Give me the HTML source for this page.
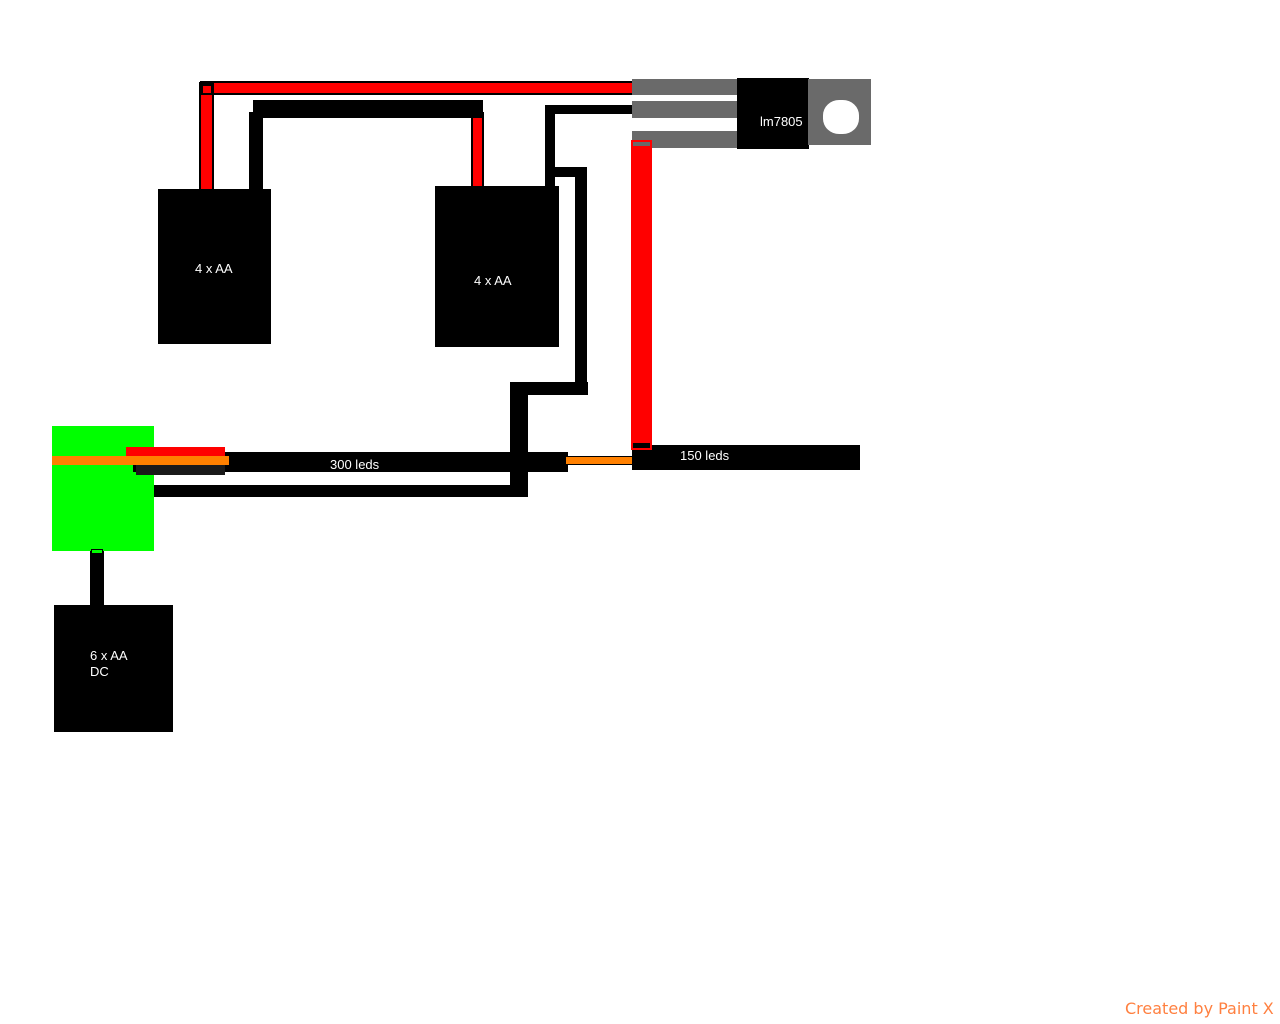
<!DOCTYPE html>
<html><head><meta charset="utf-8"><style>
body{margin:0;width:1280px;height:1024px;background:#fff;position:relative;overflow:hidden;font-family:"Liberation Sans",sans-serif}
div{position:absolute;box-sizing:border-box}
.k{background:#000}.r{background:#ff0000}.g{background:#6a6a6a}.o{background:#ff8000}
.t{color:#fff;font-size:13px;white-space:nowrap}
</style></head><body>
<!-- top red wire -->
<div class="k" style="left:200px;top:81px;width:436px;height:14px"></div>
<div class="r" style="left:203px;top:83px;width:433px;height:10px"></div>
<div class="k" style="left:199px;top:82px;width:15px;height:108px"></div>
<div class="r" style="left:201px;top:84px;width:11px;height:106px"></div>
<div style="left:201px;top:84px;width:12px;height:11px;border:2px solid #000"></div>
<!-- black bar -->
<div class="k" style="left:253px;top:100px;width:230px;height:18px"></div>
<div class="k" style="left:249px;top:112px;width:14px;height:78px"></div>
<div class="k" style="left:471px;top:112px;width:13px;height:76px"></div>
<div class="r" style="left:473px;top:118px;width:9px;height:70px"></div>
<!-- black wire from regulator -->
<div class="k" style="left:545px;top:105px;width:88px;height:9px"></div>
<div class="k" style="left:545px;top:105px;width:10px;height:82px"></div>
<div class="k" style="left:545px;top:167px;width:42px;height:10px"></div>
<div class="k" style="left:575px;top:167px;width:12px;height:228px"></div>
<div class="k" style="left:510px;top:382px;width:78px;height:13px"></div>
<div class="k" style="left:510px;top:382px;width:18px;height:114px"></div>
<div class="k" style="left:138px;top:485px;width:390px;height:12px"></div>
<!-- regulator -->
<div class="g" style="left:632px;top:79px;width:106px;height:16px"></div>
<div class="g" style="left:632px;top:101px;width:106px;height:17px"></div>
<div class="g" style="left:632px;top:131px;width:106px;height:17px"></div>
<div class="k" style="left:737px;top:78px;width:72px;height:71px"></div>
<div class="t" style="left:760px;top:114px">lm7805</div>
<div class="g" style="left:808px;top:79px;width:63px;height:66px"></div>
<div style="left:823px;top:100px;width:36px;height:34px;background:#fff;border-radius:45%"></div>
<!-- red vertical -->
<div class="r" style="left:631px;top:140px;width:21px;height:310px"></div>
<div style="left:631px;top:140px;width:21px;height:8px;border:2px solid #ff0000;background:#6a6a6a"></div>
<!-- batteries -->
<div class="k" style="left:158px;top:189px;width:113px;height:155px"></div>
<div class="t" style="left:195px;top:261px">4 x AA</div>
<div class="k" style="left:435px;top:186px;width:124px;height:161px"></div>
<div class="t" style="left:474px;top:273px">4 x AA</div>
<div class="k" style="left:90px;top:548px;width:14px;height:60px"></div>
<div class="k" style="left:54px;top:605px;width:119px;height:127px"></div>
<div class="t" style="left:90px;top:648px;line-height:16px">6 x AA<br>DC</div>
<!-- green -->
<div style="left:52px;top:426px;width:102px;height:125px;background:#00ff00"></div>
<div style="left:91px;top:549px;width:12px;height:5px;border:1px solid #000;background:#00ff00"></div>
<!-- 300 leds -->
<div class="k" style="left:133px;top:452px;width:435px;height:20px"></div>
<div class="t" style="left:330px;top:457px">300 leds</div>
<div class="r" style="left:126px;top:447px;width:99px;height:10px"></div>
<div style="left:136px;top:465px;width:89px;height:10px;background:#1a1a1a"></div>
<div class="o" style="left:52px;top:456px;width:177px;height:9px"></div>
<div class="o" style="left:565px;top:456px;width:69px;height:9px;border:1px solid #000"></div>
<!-- 150 leds -->
<div class="k" style="left:632px;top:445px;width:228px;height:25px"></div>
<div class="t" style="left:680px;top:448px">150 leds</div>
<div style="left:631px;top:441px;width:21px;height:9px;border:2px solid #ff0000;background:#000"></div>
<div style="left:1125px;top:999px;color:#ff8040;font-family:'DejaVu Sans',sans-serif;font-size:16px">Created by Paint X</div>
</body></html>
